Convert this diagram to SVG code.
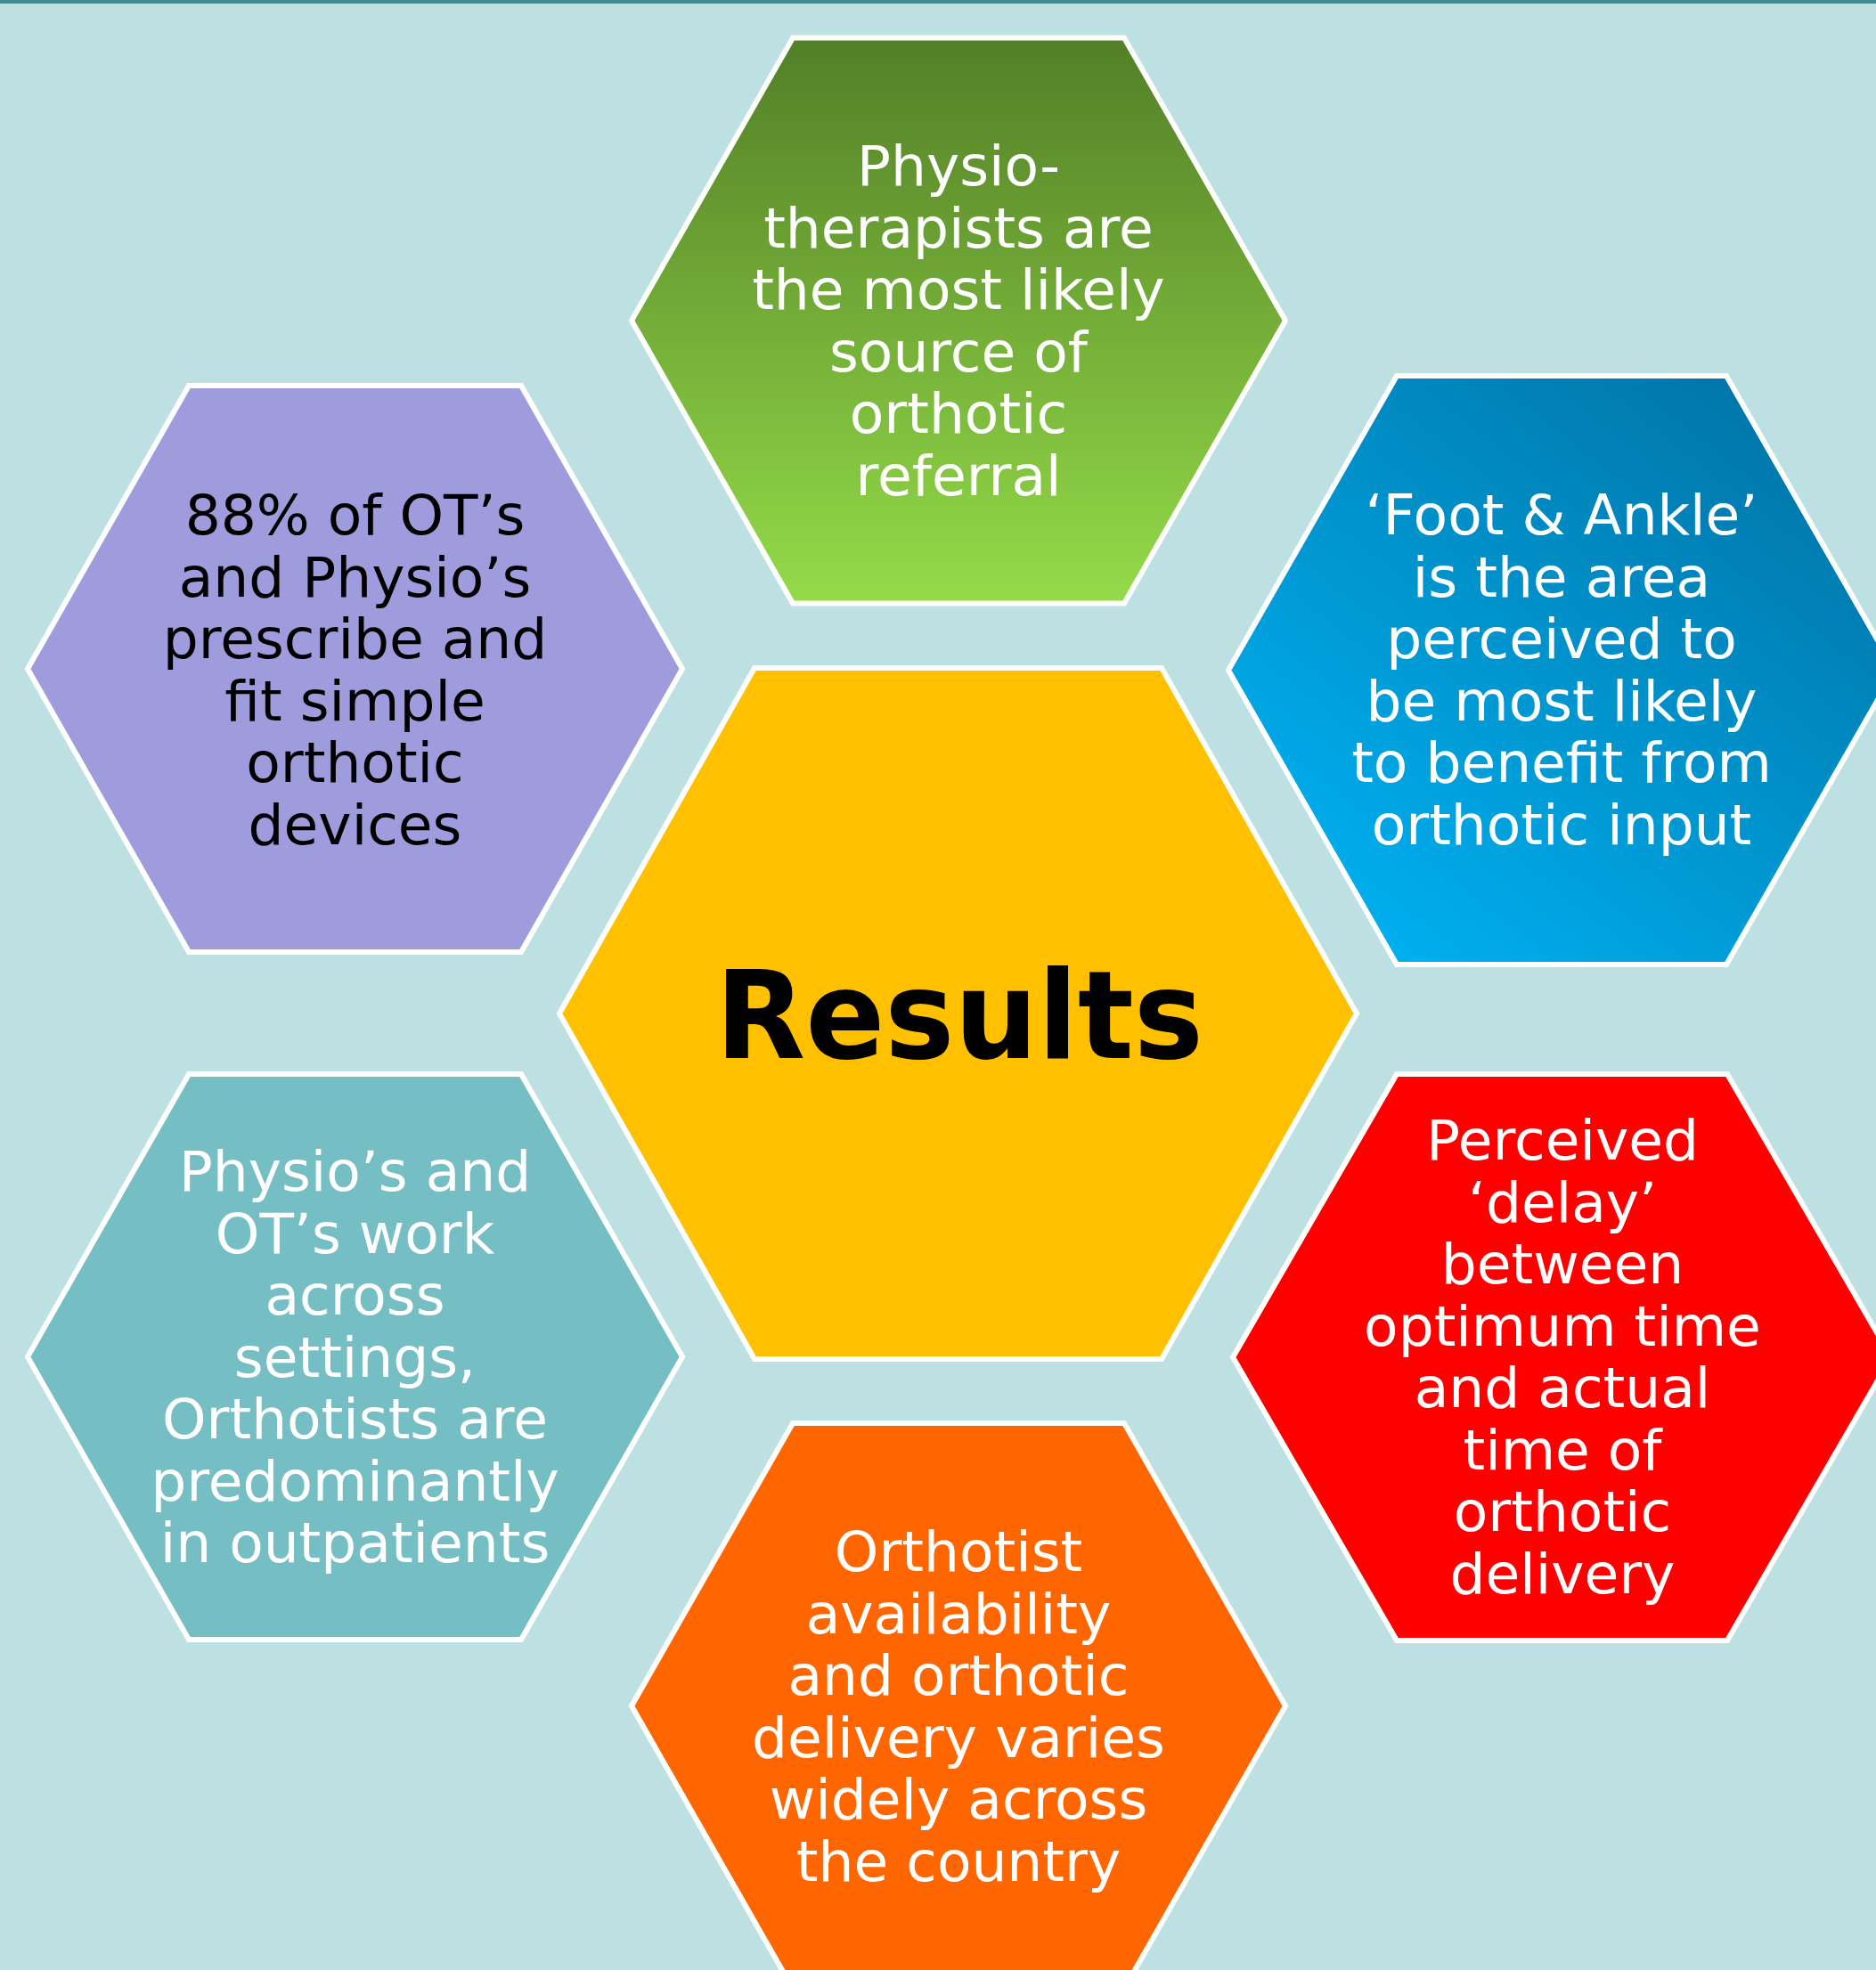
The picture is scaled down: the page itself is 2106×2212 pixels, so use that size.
<svg xmlns="http://www.w3.org/2000/svg" width="2106" height="2212" viewBox="0 0 2106 2212">
  <defs>
    <linearGradient id="gradGreen" x1="0" y1="0" x2="0" y2="1">
      <stop offset="0" stop-color="#537f27"/>
      <stop offset="1" stop-color="#94db49"/>
    </linearGradient>
    <linearGradient id="gradBlue" x1="0.9" y1="0.1" x2="0.15" y2="0.95">
      <stop offset="0" stop-color="#0175a8"/>
      <stop offset="1" stop-color="#00b1f1"/>
    </linearGradient>
    <style>
      .hex { stroke: #ffffff; stroke-width: 6; stroke-linejoin: miter; }
      .lbl { font-family: "DejaVu Sans", Verdana, sans-serif; font-size: 63px; text-anchor: middle; fill: #ffffff; }
      .dark { fill: #000000; }
      .title { font-family: "DejaVu Sans", Verdana, sans-serif; font-size: 138px; font-weight: bold; text-anchor: middle; fill: #000000; }
    </style>
  </defs>

  <!-- page background and top rule -->
  <rect x="0" y="0" width="2106" height="2212" fill="#bde0e3"/>
  <rect x="0" y="0" width="2106" height="4" fill="#3f8b93"/>

  <g id="connectors"></g>

  <!-- top: referral source -->
  <g id="hex-referral">
    <polygon class="hex" fill="url(#gradGreen)" points="890,42.5 1262,42.5 1443,360 1262,677.5 890,677.5 709,360"/>
    <text class="lbl" x="1076" y="208">Physio-</text>
    <text class="lbl" x="1076" y="277.5">therapists are</text>
    <text class="lbl" x="1076" y="347">the most likely</text>
    <text class="lbl" x="1076" y="416.5">source of</text>
    <text class="lbl" x="1076" y="486">orthotic</text>
    <text class="lbl" x="1076" y="555.5">referral</text>
  </g>

  <!-- upper left: prescribing -->
  <g id="hex-prescribe">
    <polygon class="hex" fill="#9e9cdc" points="212,433 585,433 766,751 585,1069 212,1069 31,751"/>
    <text class="lbl dark" x="398.5" y="600">88% of OT’s</text>
    <text class="lbl dark" x="398.5" y="669.5">and Physio’s</text>
    <text class="lbl dark" x="398.5" y="739">prescribe and</text>
    <text class="lbl dark" x="398.5" y="808.5">fit simple</text>
    <text class="lbl dark" x="398.5" y="878">orthotic</text>
    <text class="lbl dark" x="398.5" y="947.5">devices</text>
  </g>

  <!-- upper right: foot and ankle -->
  <g id="hex-foot-ankle">
    <polygon class="hex" fill="url(#gradBlue)" points="1568,422 1938,422 2127,752.5 1938,1083 1568,1083 1379,752.5"/>
    <text class="lbl" x="1753" y="600">‘Foot &amp; Ankle’</text>
    <text class="lbl" x="1753" y="669.5">is the area</text>
    <text class="lbl" x="1753" y="739">perceived to</text>
    <text class="lbl" x="1753" y="808.5">be most likely</text>
    <text class="lbl" x="1753" y="878">to benefit from</text>
    <text class="lbl" x="1753" y="947.5">orthotic input</text>
  </g>

  <!-- centre -->
  <g id="hex-results">
    <polygon class="hex" fill="#ffc000" points="847,750 1304,750 1523,1138 1304,1526 847,1526 628,1138"/>
    <text class="title" x="1077" y="1188" textLength="548" lengthAdjust="spacingAndGlyphs">Results</text>
  </g>

  <!-- lower left: settings -->
  <g id="hex-settings">
    <polygon class="hex" fill="#74bec4" points="212,1206 585,1206 766,1523.5 585,1841 212,1841 31,1523.5"/>
    <text class="lbl" x="398.5" y="1337">Physio’s and</text>
    <text class="lbl" x="398.5" y="1406.5">OT’s work</text>
    <text class="lbl" x="398.5" y="1476">across</text>
    <text class="lbl" x="398.5" y="1545.5">settings,</text>
    <text class="lbl" x="398.5" y="1615">Orthotists are</text>
    <text class="lbl" x="398.5" y="1684.5">predominantly</text>
    <text class="lbl" x="398.5" y="1754">in outpatients</text>
  </g>

  <!-- lower right: delay -->
  <g id="hex-delay">
    <polygon class="hex" fill="#ff0000" points="1568,1206 1939,1206 2123,1524 1939,1842 1568,1842 1384,1524"/>
    <text class="lbl" x="1754" y="1302">Perceived</text>
    <text class="lbl" x="1754" y="1371.5">‘delay’</text>
    <text class="lbl" x="1754" y="1441">between</text>
    <text class="lbl" x="1754" y="1510.5">optimum time</text>
    <text class="lbl" x="1754" y="1580">and actual</text>
    <text class="lbl" x="1754" y="1649.5">time of</text>
    <text class="lbl" x="1754" y="1719">orthotic</text>
    <text class="lbl" x="1754" y="1788.5">delivery</text>
  </g>

  <!-- bottom: availability -->
  <g id="hex-availability">
    <polygon class="hex" fill="#ff6600" points="890,1598 1262,1598 1443,1915.5 1262,2233 890,2233 709,1915.5"/>
    <text class="lbl" x="1076" y="1764">Orthotist</text>
    <text class="lbl" x="1076" y="1833.5">availability</text>
    <text class="lbl" x="1076" y="1903">and orthotic</text>
    <text class="lbl" x="1076" y="1972.5">delivery varies</text>
    <text class="lbl" x="1076" y="2042">widely across</text>
    <text class="lbl" x="1076" y="2111.5">the country</text>
  </g>
</svg>
